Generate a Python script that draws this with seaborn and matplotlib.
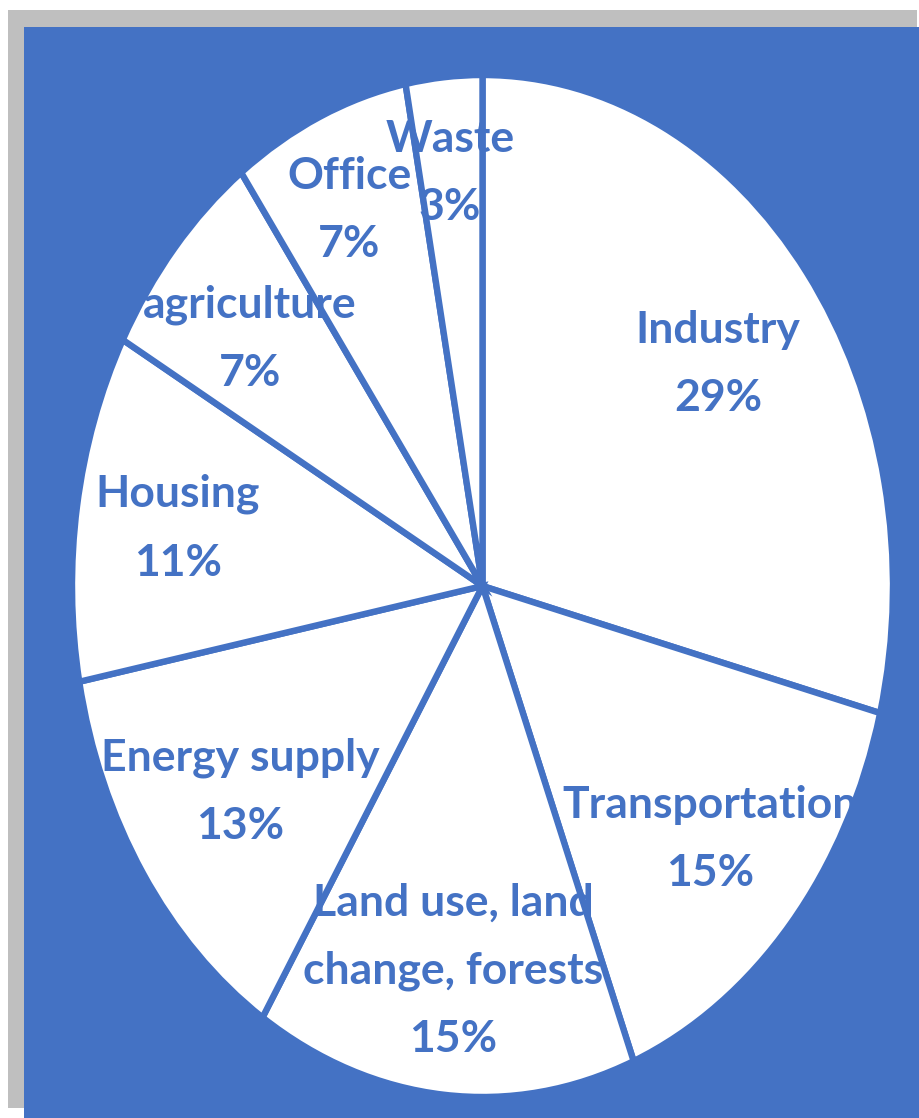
import matplotlib
matplotlib.use("Agg")
import matplotlib.pyplot as plt
from matplotlib.patches import Rectangle
import seaborn as sns

# ---- data ----
categories = ["Industry", "Transportation", "Land use, land\nchange, forests",
              "Energy supply", "Housing", "agriculture", "Office", "Waste"]
shares = [29, 15, 15, 13, 11, 7, 7, 3]

# label centres (in pie data units, radius = 1)
label_x = [0.574, 0.554, -0.072, -0.591, -0.742, -0.566, -0.325, -0.079]
label_y = [0.434, -0.496, -0.753, -0.403, 0.113, 0.484, 0.735, 0.808]

sns.set_theme(style="white")
plt.rcParams["font.family"] = ["Lato", "DejaVu Sans"]

BLUE = "#4472C4"
W, H = 920, 1118
fig = plt.figure(figsize=(W / 100, H / 100), dpi=100)
fig.patch.set_facecolor("white")

fig.patches.append(Rectangle((8 / W, 1 - 1108 / H), (917 - 8) / W, (1108 - 10) / H,
                             transform=fig.transFigure, facecolor="#BFBFBF",
                             edgecolor="none", zorder=-3))
fig.patches.append(Rectangle((24 / W, 0), (W - 24) / W, (H - 27) / H,
                             transform=fig.transFigure, facecolor=BLUE,
                             edgecolor="none", zorder=-2))

ax = fig.add_axes([72 / W, 1 - 1097 / H, (893 - 72) / W, (1097 - 75) / H])
ax.set_zorder(5)
ax.set_facecolor("none")
wedges, _ = ax.pie(shares, startangle=90, counterclock=False, colors=["white"] * len(shares),
                   wedgeprops=dict(edgecolor=BLUE, linewidth=4.6))
for w in wedges:
    w.set_clip_on(False)
ax.set_aspect("auto")
ax.set_xlim(-1, 1)
ax.set_ylim(-1, 1)
ax.axis("off")

for name, v, x, y in zip(categories, shares, label_x, label_y):
    ax.text(x, y, f"{name}\n{v}%", ha="center", va="center", color=BLUE,
            fontsize=32, fontweight="bold", linespacing=1.85, multialignment="center")

fig.savefig("out.png", dpi=100, facecolor="white")
